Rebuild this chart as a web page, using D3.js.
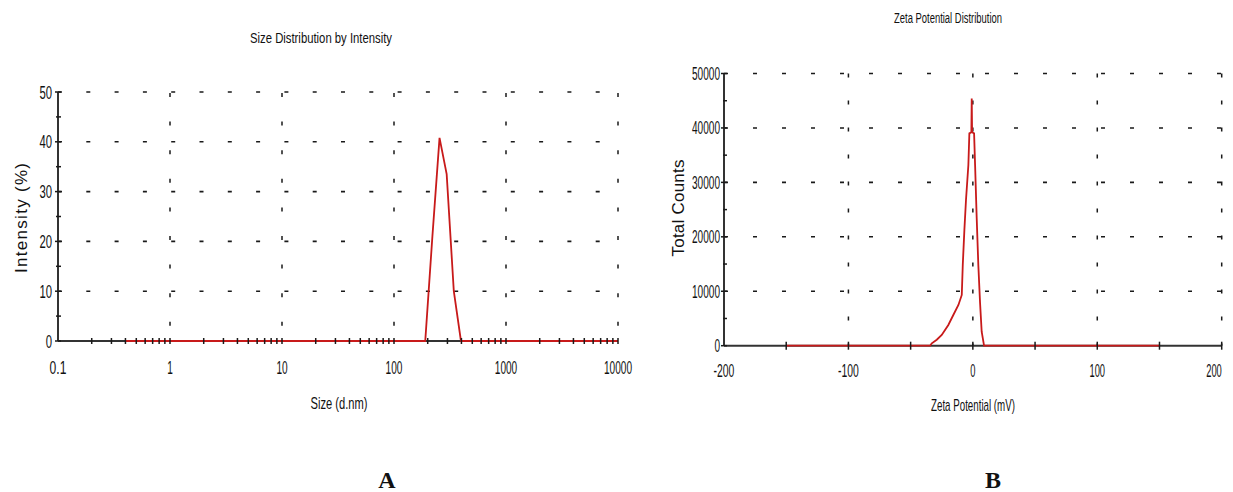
<!DOCTYPE html>
<meta charset="utf-8"/>
<head>
<style>
  body { margin:0; background:#fff; }
  text { font-family:"Liberation Sans Narrow","Arial Narrow","Liberation Sans",sans-serif; fill:#111; }
  .panel { font-family:"Liberation Serif",serif; font-weight:bold; }
</style>
<script src="https://d3js.org/d3.v7.min.js" charset="utf-8"></script>
</head>
<body>
<script>

  // Size distribution by intensity (panel A)
  var sizeNm       = [0.4, 190.1, 220.2, 255.0, 295.3, 342.0, 396.1, 10000];
  var intensityPct = [0,   0,     21.0,  40.8,  33.5,  10.0,  0,     0];
  var sizeTicks      = [0.1, 1, 10, 100, 1000, 10000];
  var sizeTickLabels = ["0.1", "1", "10", "100", "1000", "10000"];
  var intensityTicks = [0, 10, 20, 30, 40, 50];

  // Zeta potential distribution (panel B)
  var zetaMv      = [-150, -34.4, -33, -29, -25, -19.7, -15.7, -11.6, -8.9, -8.1, -6.8, -5.5, -3.6, -2.8, -1.2, -0.9, -0.6, 1.0, 1.8, 3.1, 4.4, 5.8, 7.1, 9.0, 150];
  var totalCounts = [0,    0,     440, 1100, 1970, 3800, 5640, 7480, 9320, 14830, 21280, 26800, 33200, 39000, 39200, 45400, 39200, 39000, 33200, 23400, 14830, 7850, 2570, 0, 0];
  var zetaTicks  = [-200, -100, 0, 100, 200];
  var countTicks = [0, 10000, 20000, 30000, 40000, 50000];

  var W = 1233, H = 492;
  var svg = d3.select("body").append("svg").attr("width", W).attr("height", H);

  function label(g, x, y, str, len, size, anchor, adjust) {
    return g.append("text")
      .attr("x", x).attr("y", y)
      .attr("text-anchor", anchor || "middle")
      .attr("font-size", size)
      .attr("textLength", len)
      .attr("lengthAdjust", adjust || "spacingAndGlyphs")
      .text(str);
  }

  var RED = "#c81a1a", AX = "#1a1a1a";

  //---------------- panel A ----------------
  var xA = d3.scaleLog().domain([0.1, 10000]).range([58, 618]);
  var yA = d3.scaleLinear().domain([0, 50]).range([341, 92]);
  var gA = svg.append("g");

  // dashed grid
  gA.selectAll(".hg").data(intensityTicks.slice(1)).enter().append("line")
    .attr("x1", xA(0.1)).attr("x2", xA(10000))
    .attr("y1", d => yA(d)).attr("y2", d => yA(d))
    .attr("stroke", AX).attr("stroke-width", 1.6).attr("stroke-dasharray", "4 24.3");
  gA.selectAll(".vg").data(sizeTicks.slice(1)).enter().append("line")
    .attr("x1", d => xA(d)).attr("x2", d => xA(d))
    .attr("y1", yA(50) + 1).attr("y2", yA(0))
    .attr("stroke", AX).attr("stroke-width", 1.5).attr("stroke-dasharray", "4 24.6");

  // axes
  gA.append("line").attr("x1", xA(0.1)).attr("x2", xA(10000)).attr("y1", yA(0)).attr("y2", yA(0))
    .attr("stroke", "#333").attr("stroke-width", 2);
  gA.append("line").attr("x1", xA(0.1)).attr("x2", xA(0.1)).attr("y1", yA(0)).attr("y2", yA(50))
    .attr("stroke", "#333").attr("stroke-width", 2);

  // data line
  var lineA = d3.line().x((d, i) => xA(sizeNm[i])).y(d => yA(d));
  gA.append("path").attr("d", lineA(intensityPct))
    .attr("fill", "none").attr("stroke", RED).attr("stroke-width", 1.8);

  // x ticks (log minor ticks crossing axis)
  gA.selectAll(".xt").data(xA.ticks().filter(d => d > 0.1)).enter().append("line")
    .attr("x1", d => xA(d)).attr("x2", d => xA(d))
    .attr("y1", yA(0) - 3).attr("y2", yA(0) + 3)
    .attr("stroke", AX).attr("stroke-width", 1.5);
  // y ticks
  gA.selectAll(".yt").data(d3.range(0, 51, 5)).enter().append("line")
    .attr("x1", d => xA(0.1) - (d % 10 ? 2 : 3)).attr("x2", d => xA(0.1) + 3)
    .attr("y1", d => yA(d)).attr("y2", d => yA(d))
    .attr("stroke", AX).attr("stroke-width", 1.5);

  sizeTicks.forEach(function(t, i) {
    var s = sizeTickLabels[i];
    label(gA, xA(t), 374, s, s.length * 5.6, 19);
  });
  intensityTicks.forEach(function(t) {
    var s = String(t);
    label(gA, 52, yA(t) + 6.5, s, s.length * 6.3, 19, "end");
  });

  label(gA, 321, 43, "Size Distribution by Intensity", 142, 15);
  label(gA, 339, 409, "Size (d.nm)", 57, 17);
  label(gA, 0, 0, "Intensity (%)", 110, 17, "middle", "spacing")
    .attr("transform", "translate(27,218) rotate(-90)");
  gA.append("text").attr("class", "panel").attr("x", 387).attr("y", 488)
    .attr("text-anchor", "middle").attr("font-size", 24).text("A");

  //---------------- panel B ----------------
  var xB = d3.scaleLinear().domain([-200, 200]).range([724, 1221.7]);
  var yB = d3.scaleLinear().domain([0, 50000]).range([345.7, 73.5]);
  var gB = svg.append("g");

  gB.selectAll(".hg").data(countTicks.slice(1)).enter().append("line")
    .attr("x1", xB(-200)).attr("x2", xB(200))
    .attr("y1", d => yB(d)).attr("y2", d => yB(d))
    .attr("stroke", AX).attr("stroke-width", 1.6).attr("stroke-dasharray", "4 25");
  gB.selectAll(".vg").data(zetaTicks.slice(1)).enter().append("line")
    .attr("x1", d => xB(d)).attr("x2", d => xB(d))
    .attr("y1", yB(50000)).attr("y2", yB(0))
    .attr("stroke", AX).attr("stroke-width", 1.5).attr("stroke-dasharray", "4 23");

  gB.append("line").attr("x1", xB(-200)).attr("x2", xB(200)).attr("y1", yB(0)).attr("y2", yB(0))
    .attr("stroke", "#333").attr("stroke-width", 2);
  gB.append("line").attr("x1", xB(-200)).attr("x2", xB(-200)).attr("y1", yB(0)).attr("y2", yB(50000))
    .attr("stroke", "#333").attr("stroke-width", 2);

  var lineB = d3.line().x((d, i) => xB(zetaMv[i])).y(d => yB(d));
  gB.append("path").attr("d", lineB(totalCounts))
    .attr("fill", "none").attr("stroke", RED).attr("stroke-width", 1.8);

  gB.selectAll(".xt").data(d3.range(-150, 201, 50)).enter().append("line")
    .attr("x1", d => xB(d)).attr("x2", d => xB(d))
    .attr("y1", yB(0) - 4).attr("y2", yB(0) + 4)
    .attr("stroke", AX).attr("stroke-width", 1.5);
  gB.selectAll(".yt").data(d3.range(0, 50001, 5000)).enter().append("line")
    .attr("x1", d => xB(-200) - (d % 10000 ? 1 : 3)).attr("x2", d => xB(-200) + 3)
    .attr("y1", d => yB(d)).attr("y2", d => yB(d))
    .attr("stroke", AX).attr("stroke-width", 1.5);

  zetaTicks.forEach(function(t) {
    var s = String(t);
    label(gB, Math.min(xB(t), 1214), 377, s, s.length * 5.2, 19);
  });
  countTicks.forEach(function(t) {
    var s = String(t);
    label(gB, 720, yB(t) + 6.5, s, s.length * 5.6, 19, "end");
  });

  label(gB, 948, 23, "Zeta Potential Distribution", 108, 14);
  label(gB, 973, 411, "Zeta Potential (mV)", 84, 17);
  label(gB, 0, 0, "Total Counts", 97, 17, "middle", "spacing")
    .attr("transform", "translate(684,208) rotate(-90)");
  gB.append("text").attr("class", "panel").attr("x", 993).attr("y", 488)
    .attr("text-anchor", "middle").attr("font-size", 24).text("B");

</script>
</body>
</html>
